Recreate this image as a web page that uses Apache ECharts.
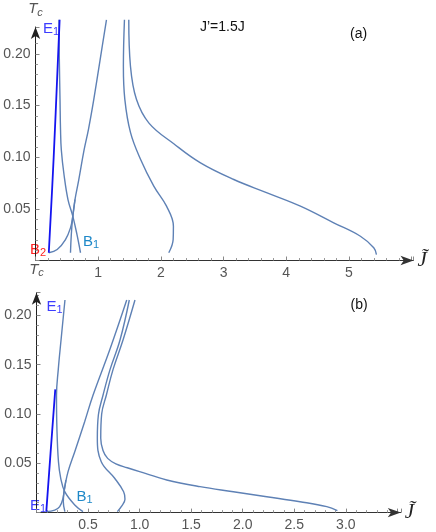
<!DOCTYPE html>
<html>
<head>
<meta charset="utf-8">
<script src="https://cdn.jsdelivr.net/npm/echarts@6/dist/echarts.min.js"></script>
<style>
  html, body { margin: 0; padding: 0; background: #fff; }
  #chart { width: 436px; height: 532px; }
</style>
</head>
<body>
<div id="chart"></div>
<script>
// panel (a): J' = 1.5J   points are [J~, Tc]
const aBlue = [[0.212, 0.0075], [0.29, 0.10], [0.385, 0.233]]
const aP = [[0.375, 0.233], [0.38, 0.195], [0.391, 0.156], [0.399, 0.127], [0.412, 0.107],
  [0.455, 0.083], [0.518, 0.059], [0.595, 0.043], [0.662, 0.025], [0.718, 0.0075]]
const aQ = [[1.132, 0.233], [1.03, 0.194], [0.93, 0.156], [0.845, 0.127], [0.775, 0.107],
  [0.69, 0.078], [0.63, 0.059], [0.595, 0.043], [0.571, 0.025], [0.558, 0.0075]]
const aR = [[0.212, 0.0075], [0.346, 0.0106], [0.478, 0.0203], [0.558, 0.0316], [0.595, 0.043], [0.63, 0.059]]
const aS = [[1.419, 0.233], [1.402, 0.188], [1.425, 0.156], [1.515, 0.124], [1.675, 0.098],
  [1.887, 0.072], [2.09, 0.0526], [2.2, 0.0332], [2.196, 0.0203], [2.126, 0.0075]]
const aU = [[1.488, 0.233], [1.515, 0.188], [1.61, 0.156], [1.81, 0.133], [2.206, 0.113],
  [2.632, 0.0945], [3.163, 0.0784], [3.695, 0.0655], [4.226, 0.0526],
  [4.757, 0.0365], [5.183, 0.0235], [5.396, 0.0123], [5.439, 0.0058]]

// panel (b)
const bBlue = [[0.095, 0.001], [0.136, 0.06], [0.182, 0.125]]
const bW = [[0.276, 0.2156], [0.238, 0.175], [0.211, 0.145], [0.194, 0.119], [0.198, 0.0855],
  [0.213, 0.0516], [0.235, 0.0348], [0.274, 0.0212], [0.371, 0.0077], [0.451, 0.001]]
const bX = [[0.875, 0.2156], [0.713, 0.1659], [0.548, 0.119], [0.467, 0.0922], [0.371, 0.0618],
  [0.306, 0.0415], [0.267, 0.0212], [0.26, 0.011], [0.275, 0.001]]
const bR = [[0.095, 0.001], [0.177, 0.0026], [0.225, 0.006], [0.257, 0.0145], [0.267, 0.0212], [0.285, 0.033]]
const bY = [[0.9, 0.2156], [0.81, 0.175], [0.713, 0.145], [0.645, 0.119], [0.6, 0.099],
  [0.59, 0.0754], [0.628, 0.0516], [0.758, 0.0348], [0.845, 0.0212], [0.858, 0.0135],
  [0.822, 0.006], [0.784, 0.001]]
const bZ = [[0.955, 0.2156], [0.839, 0.175], [0.742, 0.145], [0.677, 0.119], [0.632, 0.1],
  [0.623, 0.0754], [0.645, 0.063], [0.69, 0.055], [0.77, 0.0495], [0.88, 0.0455],
  [1.0, 0.0415], [1.263, 0.0331], [1.586, 0.0263], [1.909, 0.0212], [2.233, 0.0161],
  [2.556, 0.011], [2.815, 0.006], [2.918, 0.0019]]

const steel = '#5e81b5'
const pureBlue = '#1414f0'
const labelFont = "'Liberation Sans', Arial, sans-serif"

const chart = echarts.init(document.getElementById('chart'))

function xAxisOf(gi, max, interval, fmt) {
  return {
    gridIndex: gi, type: 'value', min: 0, max: max, interval: interval,
    name: 'J\u0303', nameLocation: 'end', nameGap: 4,
    nameTextStyle: { fontFamily: "'Liberation Serif', serif", fontStyle: 'italic', fontSize: 21, color: '#222', verticalAlign: 'middle' },
    axisLine: { show: true, symbol: ['none', 'arrow'], symbolSize: [7, 13], lineStyle: { color: '#333', width: 1 } },
    axisTick: { show: true, inside: true, length: 4, lineStyle: { color: '#888' } },
    minorTick: { show: true, splitNumber: 5, length: 2.5, lineStyle: { color: '#999' } },
    axisLabel: { margin: 6, color: '#555', fontFamily: labelFont, fontSize: 14, formatter: fmt, hideOverlap: false },
    splitLine: { show: false }
  }
}

function yAxisOf(gi, max, gap) {
  return {
    gridIndex: gi, type: 'value', min: 0, max: max, interval: 0.05,
    name: '{t|T}{c|c}', nameLocation: 'end', nameGap: gap,
    nameTextStyle: {
      rich: {
        t: { fontFamily: labelFont, fontStyle: 'italic', fontSize: 15, color: '#555' },
        c: { fontFamily: labelFont, fontStyle: 'italic', fontSize: 11, color: '#555', padding: [7, 0, 0, 0] }
      }
    },
    axisLine: { show: true, symbol: ['none', 'arrow'], symbolSize: [7, 12], lineStyle: { color: '#222', width: 1 } },
    axisTick: { show: true, inside: true, length: 4, lineStyle: { color: '#888' } },
    minorTick: { show: true, splitNumber: 5, length: 2.5, lineStyle: { color: '#999' } },
    axisLabel: {
      margin: 5, color: '#555', fontFamily: labelFont, fontSize: 14,
      formatter: v => (v > 0.01 && v < 0.21) ? v.toFixed(2) : ''
    },
    splitLine: { show: false }
  }
}

function curve(data, gi, color, width, z) {
  return {
    type: 'line', xAxisIndex: gi, yAxisIndex: gi, data: data,
    showSymbol: false, smooth: 0.4, clip: false, z: z || 2,
    lineStyle: { color: color, width: width },
    silent: true, animation: false
  }
}

function sub(main, s, color, x, y) {
  return {
    type: 'text', x: x, y: y, silent: true,
    style: {
      text: '{m|' + main + '}{s|' + s + '}',
      align: 'left', verticalAlign: 'top',
      rich: {
        m: { fontFamily: labelFont, fontSize: 15, fill: color },
        s: { fontFamily: labelFont, fontSize: 11, fill: color, padding: [6, 0, 0, 0] }
      }
    }
  }
}

function plain(text, x, y) {
  return {
    type: 'text', x: x, y: y, silent: true,
    style: { text: text, fontFamily: labelFont, fontSize: 14, fill: '#111', align: 'left', verticalAlign: 'top' }
  }
}

chart.setOption({
  animation: false,
  backgroundColor: '#fff',
  grid: [
    { left: 35.5, top: 27, width: 378, height: 233.5, outerBoundsMode: 'none' },
    { left: 36.5, top: 292.7, width: 364.3, height: 219.9, outerBoundsMode: 'none' }
  ],
  xAxis: [
    xAxisOf(0, 6.03, 1, v => (v >= 0.99 && v <= 5.01) ? String(Math.round(v)) : ''),
    xAxisOf(1, 3.533, 0.5, v => (v > 0.01 && v < 3.01) ? v.toFixed(1) : '')
  ],
  yAxis: [
    yAxisOf(0, 0.226, 9),
    yAxisOf(1, 0.223, 14)
  ],
  series: [
    curve(aP, 0, steel, 1.4),
    curve(aQ, 0, steel, 1.4),
    curve(aR, 0, steel, 1.4),
    curve(aS, 0, steel, 1.4),
    curve(aU, 0, steel, 1.4),
    curve(aBlue, 0, pureBlue, 1.8, 3),
    curve(bW, 1, steel, 1.4),
    curve(bX, 1, steel, 1.4),
    curve(bR, 1, steel, 1.4),
    curve(bY, 1, steel, 1.4),
    curve(bZ, 1, steel, 1.4),
    curve(bBlue, 1, pureBlue, 1.8, 3)
  ],
  graphic: [
    plain('J\u2019=1.5J', 200, 20),
    plain('(a)', 350, 27),
    plain('(b)', 350.5, 298),
    sub('E', '1', '#3c3cff', 43, 20),
    sub('B', '2', '#ff2020', 30, 241),
    sub('B', '1', '#1e88c8', 83, 233),
    sub('E', '1', '#3c3cff', 46.5, 298),
    sub('E', '1', '#3c3cff', 30, 497),
    sub('B', '1', '#1e88c8', 76.5, 488)
  ]
})
</script>
</body>
</html>
